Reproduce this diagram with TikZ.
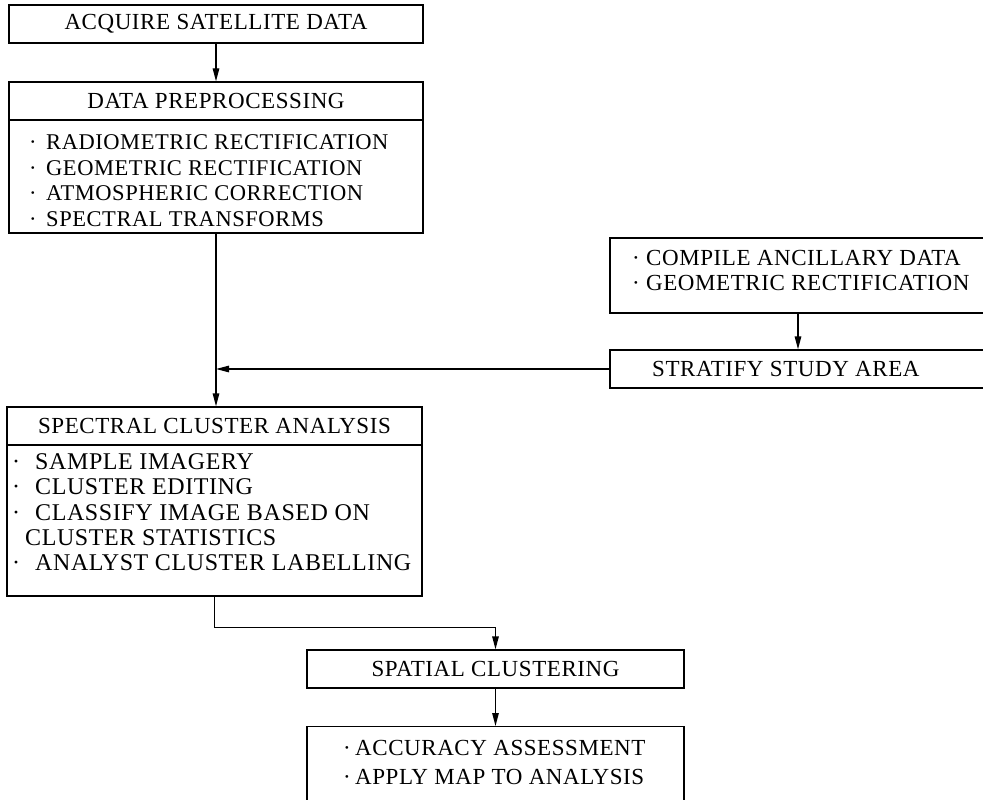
\documentclass[tikz,border=0pt]{standalone}
\usepackage{fontspec}
\setmainfont{Liberation Serif}[LetterSpace=2.5]
\usetikzlibrary{arrows.meta}
\newcommand{\bul}[1]{\makebox[#1][l]{·}}
\begin{document}
\begin{tikzpicture}[x=1pt,y=-1pt,
  every node/.style={font=\fontsize{23}{26}\selectfont},
  box/.style={draw, line width=1.3pt, rectangle, inner sep=0pt, anchor=center},
  ltext/.style={anchor=base west, inner sep=0pt},
  dptext/.style={ltext, font=\fontsize{22.5}{26}\selectfont},
  sctext/.style={ltext, font=\fontsize{24}{26}\selectfont},
  arr/.style={line width=1.3pt, -{Triangle[length=13pt,width=6.5pt]}}]
\useasboundingbox (0,0) rectangle (983,800);
\clip (0,0) rectangle (983,800);
% boxes
\node[box, minimum width=414pt, minimum height=38pt] (acq) at (216,24) {ACQUIRE SATELLITE DATA};
\node[box, minimum width=414pt, minimum height=38pt] (dph) at (216,101) {DATA PREPROCESSING};
\node[box, minimum width=414pt, minimum height=113pt] (dpb) at (216,176.5) {};
\node[box, minimum width=385pt, minimum height=75pt] (comp) at (802.5,275.5) {};
\node[box, minimum width=385pt, minimum height=38pt] (strat) at (802.5,369) {};
\node[box, minimum width=415pt, minimum height=38pt] (sch) at (214.5,426) {SPECTRAL CLUSTER ANALYSIS};
\node[box, minimum width=415pt, minimum height=151pt] (scb) at (214.5,520.5) {};
\node[box, minimum width=377pt, minimum height=38pt] (spat) at (495.5,669) {SPATIAL CLUSTERING};
\node[box, minimum width=377pt, minimum height=90pt, anchor=north] (fin) at (495.5,726) {};
% list texts
\node[dptext] (dp1) at (29,149.5) {\bul{17pt}RADIOMETRIC RECTIFICATION};
\node[dptext] (dp2) at (29,175) {\bul{17pt}GEOMETRIC RECTIFICATION};
\node[dptext] (dp3) at (29,200.5) {\bul{17pt}ATMOSPHERIC CORRECTION};
\node[dptext] (dp4) at (29,226.5) {\bul{17pt}SPECTRAL TRANSFORMS};
\node[ltext] (cp1) at (632,265) {\bul{14pt}COMPILE ANCILLARY DATA};
\node[ltext] (cp2) at (632,290) {\bul{14pt}GEOMETRIC RECTIFICATION};
\node[ltext] (st1) at (652,376.5) {STRATIFY STUDY AREA};
\node[sctext] (sc1) at (12,469) {\bul{23pt}SAMPLE IMAGERY};
\node[sctext] (sc2) at (12,494.5) {\bul{23pt}CLUSTER EDITING};
\node[sctext] (sc3) at (12,520) {\bul{23pt}CLASSIFY IMAGE BASED ON};
\node[sctext] (sc4) at (12,545) {\hspace*{13pt}CLUSTER STATISTICS};
\node[sctext] (sc5) at (12,570.5) {\bul{23pt}ANALYST CLUSTER LABELLING};
\node[ltext] (fn1) at (343,755) {\bul{12pt}ACCURACY ASSESSMENT};
\node[ltext] (fn2) at (343,784) {\bul{12pt}APPLY MAP TO ANALYSIS};
% connectors
\draw[arr] (acq) -- (dph);
\draw[arr] (dpb.south) -- (dpb.south |- sch.north);
\draw[arr] (comp.south -| 798,0) -- (strat.north -| 798,0);
\draw[arr] (strat.west) -- (strat.west -| dpb.south);
\draw[arr] (scb.south) -- ++(0,31) -| (spat.north);
\draw[arr] (spat) -- (fin);
\end{tikzpicture}
\end{document}
